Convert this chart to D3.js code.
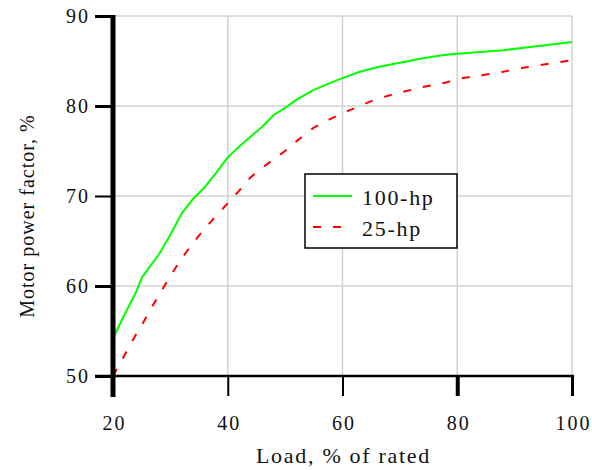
<!DOCTYPE html>
<html>
<head>
<meta charset="utf-8">
<script src="https://cdn.jsdelivr.net/npm/d3@7"></script>
<style>
  body { margin: 0; background: #fff; }
  text { font-family: "Liberation Serif", "Times New Roman", serif; fill: #111; }
</style>
</head>
<body>
<svg id="chart" width="592" height="470"></svg>
<script>
// load points, % of rated
var load = [20, 22, 24, 25, 26, 28, 30, 32, 34, 36, 38, 40, 42, 44, 46, 48, 50,
            52, 55, 58, 60, 63, 66, 70, 74, 78, 80, 84, 88, 92, 96, 100];
// power factor, %
var pf100 = [54.2, 56.8, 59.3, 60.9, 61.8, 63.5, 65.7, 68.1, 69.7, 71.0, 72.6, 74.3, 75.5, 76.6, 77.7, 79.0, 79.8,
             80.7, 81.8, 82.6, 83.1, 83.8, 84.3, 84.8, 85.3, 85.7, 85.8, 86.0, 86.2, 86.5, 86.8, 87.1];
var pf25 = [50.0, 52.3, 54.6, 55.6, 56.8, 59.0, 61.1, 63.1, 64.8, 66.4, 67.8, 69.2, 70.6, 72.1, 73.1, 74.1, 75.0,
            76.1, 77.6, 78.6, 79.2, 80.0, 80.8, 81.5, 82.1, 82.6, 83.0, 83.4, 83.8, 84.3, 84.7, 85.1];
var xTicks = [20, 40, 60, 80, 100];
var yTicks = [50, 60, 70, 80, 90];
var seriesNames = ["100-hp", "25-hp"];

function run() {
  var svg = d3.select("#chart");
  var x = d3.scaleLinear().domain([20, 100]).range([113, 572]);
  var y = d3.scaleLinear().domain([50, 90]).range([376, 16]);

  // grid
  svg.append("g").selectAll("line")
    .data(xTicks.slice(1)).enter().append("line")
    .attr("x1", function(d) { return x(d); }).attr("x2", function(d) { return x(d); })
    .attr("y1", y(90)).attr("y2", y(50))
    .style("stroke", "#d2d2d2").style("stroke-width", 1.5);
  svg.append("g").selectAll("line")
    .data(yTicks.slice(1)).enter().append("line")
    .attr("x1", x(20)).attr("x2", x(100))
    .attr("y1", function(d) { return y(d); }).attr("y2", function(d) { return y(d); })
    .style("stroke", "#d2d2d2").style("stroke-width", 1.5);

  // curves
  var line = d3.line()
    .x(function(d) { return x(d[0]); })
    .y(function(d) { return y(d[1]); });
  svg.append("path")
    .datum(d3.zip(load, pf100))
    .attr("d", line)
    .style("fill", "none").style("stroke", "#00ff00").style("stroke-width", 2);
  svg.append("path")
    .datum(d3.zip(load, pf25))
    .attr("d", line)
    .style("fill", "none").style("stroke", "#ff0000").style("stroke-width", 2)
    .style("stroke-dasharray", "8,12");

  // axes
  var yAxis = d3.axisLeft(y).tickValues(yTicks).tickSize(18).tickPadding(5);
  var gy = svg.append("g").attr("transform", "translate(" + x(20) + ",0)").call(yAxis);
  gy.select(".domain").remove();
  gy.selectAll(".tick line").style("stroke", "#000")
    .style("stroke-width", function(d) { return d === 70 ? 2 : 3; });
  gy.selectAll(".tick text").style("font-size", "20px").style("font-family", "Liberation Serif")
    .style("letter-spacing", "2px");

  var xAxis = d3.axisBottom(x).tickValues(xTicks).tickSize(20).tickPadding(34);
  var gx = svg.append("g").attr("transform", "translate(0," + y(50) + ")").call(xAxis);
  gx.select(".domain").remove();
  gx.selectAll(".tick line").style("stroke", "#000")
    .style("stroke-width", function(d) { return d === 80 ? 4 : (d === 100 ? 3 : 2); });
  gx.selectAll(".tick text").style("font-size", "20px").style("font-family", "Liberation Serif")
    .style("letter-spacing", "2px").attr("dx", "1").attr("dy", "0");

  svg.append("line")
    .attr("x1", 95).attr("x2", 574).attr("y1", y(50)).attr("y2", y(50))
    .style("stroke", "#000").style("stroke-width", 2.5);
  svg.append("line")
    .attr("x1", x(20)).attr("x2", x(20)).attr("y1", y(90) - 1).attr("y2", 397)
    .style("stroke", "#000").style("stroke-width", 5);

  // axis titles
  svg.append("text")
    .attr("x", (x(20) + x(100)) / 2 + 1).attr("y", 463)
    .attr("text-anchor", "middle")
    .style("font-size", "22px").style("letter-spacing", "1.7px")
    .text("Load, % of rated");
  svg.append("text")
    .attr("transform", "translate(34,216) rotate(-90)")
    .attr("text-anchor", "middle")
    .style("font-size", "20px").style("letter-spacing", "1px")
    .text("Motor power factor, %");

  // legend
  var lg = svg.append("g");
  lg.append("rect")
    .attr("x", 305).attr("y", 174).attr("width", 152).attr("height", 74)
    .style("fill", "#fff").style("stroke", "#000").style("stroke-width", 1.5);
  var items = lg.selectAll("g.item").data(seriesNames).enter().append("g")
    .attr("transform", function(d, i) { return "translate(0," + (196 + i * 31) + ")"; });
  items.append("line")
    .attr("x1", 313).attr("x2", 352).attr("y1", 0).attr("y2", 0)
    .style("stroke", function(d, i) { return i === 0 ? "#00ff00" : "#ff0000"; })
    .style("stroke-width", 2)
    .style("stroke-dasharray", function(d, i) { return i === 0 ? null : "8,12"; });
  items.append("text")
    .attr("x", 362).attr("y", 9)
    .style("font-size", "22px").style("letter-spacing", "1.7px")
    .text(function(d) { return d; });
}
run();
</script>
</body>
</html>
